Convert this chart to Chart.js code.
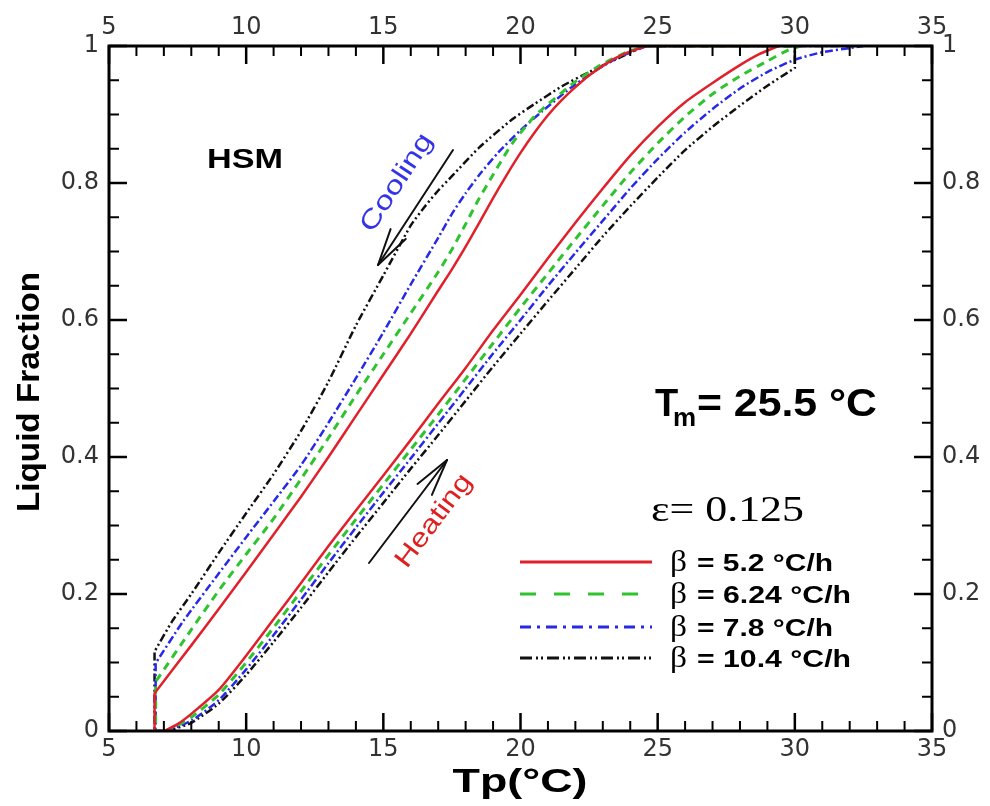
<!DOCTYPE html>
<html>
<head>
<meta charset="utf-8">
<script src="https://cdn.jsdelivr.net/npm/chart.js@4.4.1/dist/chart.umd.min.js"></script>
<style>
html,body{margin:0;padding:0;background:#ffffff;}
#wrap{width:990px;height:806px;position:relative;}
</style>
</head>
<body>
<div id="wrap"><canvas id="c" width="990" height="806"></canvas></div>
<script>
// ---------- data ----------
const xTicks = [5, 10, 15, 20, 25, 30, 35];
const yTicks = [0, 0.2, 0.4, 0.6, 0.8, 1];
const seriesLabels = ['5.2 °C/h', '6.24 °C/h', '7.8 °C/h', '10.4 °C/h'];

// beta = 5.2 °C/h
const heatX_52 = [7.02, 7.5, 8, 9, 10, 11, 12, 13, 14, 15, 16, 17, 18, 19, 20, 21, 22, 23, 24, 25, 26, 27, 28, 28.7, 29.4];
const heatY_52 = [0, 0.01, 0.025, 0.06, 0.11, 0.163, 0.216, 0.27, 0.322, 0.373, 0.425, 0.478, 0.53, 0.585, 0.637, 0.69, 0.742, 0.792, 0.84, 0.882, 0.918, 0.946, 0.972, 0.988, 1];
const coolX_52 = [6.66, 8, 9, 10, 11, 12, 13, 14, 15, 16, 17, 17.5, 18, 18.5, 19, 19.5, 20, 20.5, 21, 21.5, 22, 22.5, 23, 23.5, 24, 24.6];
const coolY_52 = [0.055, 0.125, 0.178, 0.232, 0.287, 0.342, 0.4, 0.46, 0.52, 0.58, 0.643, 0.674, 0.707, 0.742, 0.778, 0.812, 0.844, 0.873, 0.899, 0.921, 0.94, 0.957, 0.971, 0.983, 0.992, 1];

// beta = 6.24 °C/h
const heatX_624 = [7.05, 7.5, 8, 9, 10, 11, 12, 13, 14, 15, 16, 17, 18, 19, 20, 21, 22, 23, 24, 25, 26, 27, 28, 29, 29.7, 30.2];
const heatY_624 = [0, 0.008, 0.02, 0.053, 0.1, 0.151, 0.204, 0.257, 0.309, 0.36, 0.411, 0.462, 0.514, 0.566, 0.618, 0.668, 0.718, 0.767, 0.815, 0.858, 0.897, 0.93, 0.956, 0.978, 0.993, 1];
const coolX_624 = [6.7, 8, 9, 10, 11, 12, 13, 14, 15, 16, 17, 17.5, 18, 18.5, 19, 19.7, 20.5, 21, 22, 23, 24, 24.6];
const coolY_624 = [0.072, 0.148, 0.205, 0.258, 0.31, 0.368, 0.428, 0.49, 0.55, 0.61, 0.67, 0.703, 0.74, 0.778, 0.812, 0.858, 0.897, 0.915, 0.948, 0.974, 0.993, 1];

// beta = 7.8 °C/h
const heatX_78 = [7.1, 8, 9, 10, 11, 12, 13, 14, 15, 16, 17, 18, 19, 20, 21, 22, 23, 24, 25, 26, 27, 28, 29, 30, 31, 32, 32.5];
const heatY_78 = [0, 0.015, 0.045, 0.09, 0.14, 0.192, 0.245, 0.297, 0.348, 0.398, 0.449, 0.5, 0.551, 0.6, 0.65, 0.698, 0.745, 0.792, 0.835, 0.874, 0.908, 0.938, 0.962, 0.98, 0.991, 0.997, 1];
const coolX_78 = [6.7, 7.7, 9, 10, 11, 12, 13, 14, 15, 16, 17, 17.5, 18, 18.5, 19.2, 20, 20.8, 21.8, 22.7, 23.5, 24.6];
const coolY_78 = [0.099, 0.16, 0.23, 0.283, 0.335, 0.388, 0.45, 0.515, 0.582, 0.652, 0.72, 0.755, 0.785, 0.812, 0.845, 0.877, 0.905, 0.938, 0.963, 0.982, 1];

// beta = 10.4 °C/h
const heatX_104 = [7.15, 8, 9, 10, 11, 12, 13, 14, 15, 16, 17, 18, 19, 20, 21, 22, 23, 24, 25, 26, 27, 28, 29, 30, 30];
const heatY_104 = [0, 0.012, 0.04, 0.082, 0.13, 0.18, 0.232, 0.283, 0.333, 0.383, 0.432, 0.482, 0.532, 0.58, 0.628, 0.675, 0.722, 0.766, 0.808, 0.848, 0.882, 0.913, 0.942, 0.968, 1];
const coolX_104 = [6.66, 7.3, 8, 9, 10, 11, 12, 13, 14, 15, 16, 16.5, 17, 17.5, 18.5, 19.7, 20.5, 21.5, 22.5, 23.4, 24.5];
const coolY_104 = [0.116, 0.16, 0.2, 0.26, 0.318, 0.375, 0.438, 0.51, 0.592, 0.665, 0.738, 0.765, 0.789, 0.81, 0.852, 0.893, 0.915, 0.941, 0.962, 0.979, 1];

// ---------- styles ----------
const lineColors = ['#e0202a', '#2fc42f', '#2828e6', '#111111'];
const plotDash = [[], [8, 6], [8, 3, 2, 3], [8, 3, 2, 3, 2, 3]];
const legendDash = [[], [16, 18], [11, 6, 3, 6], [12, 4, 2, 3, 2, 4]];

// Closed loop: heating branch, along the top, cooling branch, vertical drop, back to start.
// Corner points are repeated so the smoothed line keeps sharp corners there.
function loop(hx, hy, cx, cy) {
  const raw = [];
  for (let i = 0; i < hx.length; i++) raw.push({x: hx[i], y: hy[i]});
  for (let i = cx.length - 1; i >= 0; i--) raw.push({x: cx[i], y: cy[i]});
  raw.push({x: cx[0], y: 0});
  raw.push({x: hx[0], y: hy[0]});
  const pts = [];
  raw.forEach((p, i) => {
    const prev = raw[i - 1], next = raw[i + 1];
    const corner = (prev && (prev.x === p.x || prev.y === p.y)) || (next && (next.x === p.x || next.y === p.y));
    pts.push(p);
    if (corner) pts.push({x: p.x, y: p.y});
  });
  return pts;
}

const loops = [
  loop(heatX_52, heatY_52, coolX_52, coolY_52),
  loop(heatX_624, heatY_624, coolX_624, coolY_624),
  loop(heatX_78, heatY_78, coolX_78, coolY_78),
  loop(heatX_104, heatY_104, coolX_104, coolY_104)
];

const datasets = loops.map((pts, i) => ({
  label: 'β = ' + seriesLabels[i],
  data: pts,
  borderColor: lineColors[i],
  backgroundColor: lineColors[i],
  borderWidth: i === 1 ? 3 : 2.5,
  borderDash: plotDash[i],
  pointRadius: 0,
  tension: 0.2,
  fill: false
}));

// ---------- drawing helpers ----------
const SANS = '"Liberation Sans", Arial, Helvetica, sans-serif';
const SERIF = '"Liberation Serif", "Times New Roman", serif';

function txt(ctx, s, x, y, o) {
  ctx.save();
  ctx.translate(x, y);
  if (o.rot) ctx.rotate(o.rot * Math.PI / 180);
  ctx.font = o.font;
  ctx.fillStyle = o.color || '#000';
  ctx.textBaseline = o.base || 'alphabetic';
  ctx.textAlign = 'left';
  const w = ctx.measureText(s).width;
  const sx = o.width ? o.width / w : 1;
  ctx.scale(sx, 1);
  let dx = 0;
  if (o.align === 'center') dx = -w / 2;
  else if (o.align === 'right') dx = -w;
  ctx.fillText(s, dx, 0);
  ctx.restore();
}

function seg(ctx, x1, y1, x2, y2) {
  ctx.beginPath(); ctx.moveTo(x1, y1); ctx.lineTo(x2, y2); ctx.stroke();
}

function arrow(ctx, x1, y1, x2, y2) {
  ctx.save();
  ctx.strokeStyle = '#111';
  ctx.lineWidth = 2;
  ctx.lineCap = 'round';
  seg(ctx, x1, y1, x2, y2);
  const ang = Math.atan2(y2 - y1, x2 - x1);
  const L = 38, h = 0.24;
  seg(ctx, x2, y2, x2 - L * Math.cos(ang - h), y2 - L * Math.sin(ang - h));
  seg(ctx, x2, y2, x2 - L * Math.cos(ang + h), y2 - L * Math.sin(ang + h));
  ctx.restore();
}

const deco = {
  id: 'deco',
  afterDraw(chart) {
    const ctx = chart.ctx;
    const a = chart.chartArea;
    const xs = chart.scales.x, ys = chart.scales.y;
    ctx.save();
    ctx.strokeStyle = '#000';
    for (let v = 5; v <= 35; v++) {
      const px = xs.getPixelForValue(v);
      const major = v % 5 === 0;
      const L = major ? 18 : 10;
      ctx.lineWidth = major ? 2.5 : 2;
      seg(ctx, px, a.bottom, px, a.bottom - L);
      seg(ctx, px, a.top, px, a.top + L);
    }
    for (let i = 0; i <= 20; i++) {
      const py = ys.getPixelForValue(i * 0.05);
      const major = i % 4 === 0;
      const L = major ? 18 : 10;
      ctx.lineWidth = major ? 2.5 : 2;
      seg(ctx, a.left, py, a.left + L, py);
      seg(ctx, a.right, py, a.right - L, py);
    }
    ctx.lineWidth = 3;
    ctx.strokeRect(a.left, a.top, a.right - a.left, a.bottom - a.top);
    ctx.restore();

    // axis titles
    txt(ctx, 'Tp(°C)', 520, 792, {font: 'bold 34px ' + SANS, width: 135, align: 'center'});
    txt(ctx, 'Liquid Fraction', 30, 392, {font: 'bold 32px ' + SANS, rot: -90, align: 'center', base: 'middle', width: 240});

    // annotations
    txt(ctx, 'HSM', 245, 168, {font: 'bold 28px ' + SANS, width: 76, align: 'center'});
    txt(ctx, 'Cooling', 397, 183, {font: '26px ' + SANS, color: '#3535e8', rot: -57, align: 'center', base: 'middle', width: 112});
    txt(ctx, 'Heating', 434, 521, {font: '26px ' + SANS, color: '#e02020', rot: -53, align: 'center', base: 'middle', width: 110});
    arrow(ctx, 453, 150, 378, 265);
    arrow(ctx, 369, 563, 447, 460);

    // T_m = 25.5 °C
    txt(ctx, 'T', 655, 416, {font: 'bold 38px ' + SANS});
    txt(ctx, 'm', 673, 426, {font: 'bold 26px ' + SANS});
    txt(ctx, '= 25.5 °C', 697, 416, {font: 'bold 38px ' + SANS, width: 180});

    // epsilon
    txt(ctx, 'ε= 0.125', 651, 521, {font: '36px ' + SERIF, width: 153});

    // legend
    const rows = [562, 594, 627, 658];
    const ends = [833, 851, 833, 851];
    chart.data.datasets.forEach((ds, i) => {
      const y = rows[i];
      ctx.save();
      ctx.strokeStyle = ds.borderColor;
      ctx.lineWidth = 3;
      ctx.setLineDash(legendDash[i]);
      seg(ctx, 520, y, 652, y);
      ctx.restore();
      txt(ctx, 'β', 670, y + 9, {font: '29px ' + SERIF, width: 17});
      txt(ctx, '= ' + seriesLabels[i], 697, y + 9, {font: 'bold 24px ' + SANS, width: ends[i] - 697});
    });
  }
};

const tickFont = {family: '"DejaVu Sans", Verdana, sans-serif', size: 24};
const fmt = v => String(Math.round(v * 10) / 10);

new Chart(document.getElementById('c'), {
  type: 'line',
  data: {datasets: datasets},
  options: {
    responsive: false,
    animation: false,
    devicePixelRatio: 1,
    layout: {padding: 0},
    plugins: {legend: {display: false}, tooltip: {enabled: false}},
    elements: {point: {radius: 0}},
    scales: {
      x: {
        type: 'linear', position: 'bottom', min: 5, max: 35,
        afterFit(s) { s.height = 75; },
        afterBuildTicks(s) { s.ticks = xTicks.map(v => ({value: v})); },
        ticks: {font: tickFont, color: '#333', padding: 4, maxRotation: 0, autoSkip: false, callback: fmt},
        grid: {display: false, drawTicks: false},
        border: {display: false}
      },
      x2: {
        axis: 'x', type: 'linear', position: 'top', min: 5, max: 35,
        afterFit(s) { s.height = 46; },
        afterBuildTicks(s) { s.ticks = xTicks.map(v => ({value: v})); },
        ticks: {font: tickFont, color: '#333', padding: 4, maxRotation: 0, autoSkip: false, callback: fmt},
        grid: {display: false, drawTicks: false},
        border: {display: false}
      },
      y: {
        type: 'linear', position: 'left', min: 0, max: 1,
        afterFit(s) { s.width = 109; },
        afterBuildTicks(s) { s.ticks = yTicks.map(v => ({value: v})); },
        ticks: {font: tickFont, color: '#333', padding: 10, autoSkip: false, callback: fmt},
        grid: {display: false, drawTicks: false},
        border: {display: false}
      },
      y2: {
        axis: 'y', type: 'linear', position: 'right', min: 0, max: 1,
        afterFit(s) { s.width = 58; },
        afterBuildTicks(s) { s.ticks = yTicks.map(v => ({value: v})); },
        ticks: {font: tickFont, color: '#333', padding: 10, autoSkip: false, callback: fmt},
        grid: {display: false, drawTicks: false},
        border: {display: false}
      }
    }
  },
  plugins: [deco]
});
</script>
</body>
</html>
